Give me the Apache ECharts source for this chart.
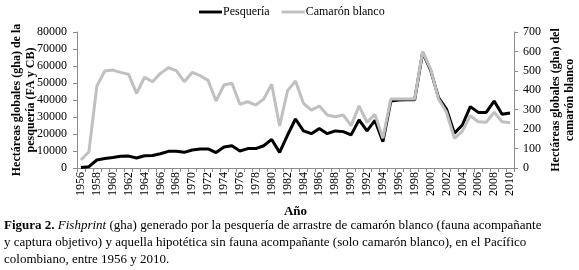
<!DOCTYPE html>
<html>
<head>
<meta charset="utf-8">
<script src="https://cdn.jsdelivr.net/npm/echarts@6/dist/echarts.min.js"></script>
<style>
  html, body { margin: 0; padding: 0; background: #fff; }
  #chart { width: 579px; height: 270px; }
</style>
</head>
<body>
<div id="chart"></div>
<script>
// Años 1956–2010, una categoría por año
const years = [];
for (let y = 1956; y <= 2010; y++) years.push(String(y));

// Pesquería (FA y CB), eje izquierdo, gha
const pesqueria = [
  300, 800, 4700, 5600, 6200, 6900, 7000, 5900, 7200, 7400,
  8400, 9800, 9800, 9200, 10600, 11200, 11200, 9100, 12300, 13100,
  10000, 11400, 11400, 13100, 16800, 9200, 19400, 28800, 21800, 20200,
  23300, 20200, 21800, 21400, 19500, 28300, 21800, 28000, 15500, 39400,
  40000, 40200, 40200, 68000, 57600, 41400, 34700, 20400, 25300, 36100,
  32700, 32700, 39400, 31600, 32300
];

// Camarón blanco, eje derecho, gha
const camaron = [
  41, 84, 422, 499, 504, 492, 482, 384, 467, 444,
  487, 516, 501, 444, 492, 475, 451, 345, 427, 436,
  328, 341, 324, 355, 431, 216, 398, 448, 333, 298,
  319, 273, 264, 273, 218, 320, 235, 276, 153, 355,
  355, 355, 355, 599, 510, 355, 287, 153, 190, 269,
  238, 235, 287, 238, 233
];

// Pie de figura, una entrada por renglón
const captionLines = [
  '{b|Figura 2.} {i|Fishprint} (gha) generado por la pesquería de arrastre de camarón blanco (fauna acompañante',
  'y captura objetivo) y aquella hipotética sin fauna acompañante (solo camarón blanco), en el Pacífico',
  'colombiano, entre 1956 y 2010.'
];

const serif = '"Liberation Serif", "DejaVu Serif", serif';
const axisGray = '#8c8c8c';
const lineIcon = 'path://M0,4 L24,4 L24,7 L0,7 Z';

const chart = echarts.init(document.getElementById('chart'), null, { renderer: 'canvas' });

chart.setOption({
  animation: false,
  textStyle: { fontFamily: serif, color: '#000' },
  legend: {
    top: 1,
    left: 194,
    itemWidth: 23,
    itemHeight: 10,
    itemGap: 12,
    textStyle: { fontFamily: serif, fontSize: 12, color: '#000', padding: [0, 0, 0, -4] },
    data: [
      { name: 'Pesquería', icon: lineIcon },
      { name: 'Camarón blanco', icon: lineIcon }
    ]
  },
  // posición fija del área de trazado, sin reajuste automático
  grid: { left: 77, right: 65, top: 32, bottom: 102, containLabel: false, outerBoundsMode: 'none' },
  xAxis: {
    type: 'category',
    data: years,
    boundaryGap: true,
    name: 'Año',
    nameLocation: 'middle',
    nameGap: 37,
    nameMoveOverlap: false,
    nameTextStyle: { fontFamily: serif, fontSize: 13, fontWeight: 'bold', color: '#000' },
    axisLine: { lineStyle: { color: axisGray, width: 1 } },
    axisTick: { show: true, length: 4, interval: 0, lineStyle: { color: axisGray } },
    axisLabel: {
      interval: 1,
      rotate: 90,
      margin: 4,
      fontFamily: serif,
      fontSize: 12,
      color: '#000'
    },
    splitLine: { show: false }
  },
  yAxis: [
    {
      type: 'value',
      min: 0,
      max: 80000,
      interval: 10000,
      position: 'left',
      name: 'Hectáreas globales (gha) de la\npesquería (FA y CB)',
      nameLocation: 'middle',
      nameRotate: 90,
      nameGap: 39,
      nameMoveOverlap: false,
      nameTextStyle: { fontFamily: serif, fontSize: 12, fontWeight: 'bold', color: '#000', lineHeight: 14 },
      axisLine: { show: true, lineStyle: { color: axisGray } },
      axisTick: { show: true, length: 4, lineStyle: { color: axisGray } },
      axisLabel: { fontFamily: serif, fontSize: 12, color: '#000', margin: 10, formatter: (v) => String(v) },
      splitLine: { show: false }
    },
    {
      type: 'value',
      min: 0,
      max: 700,
      interval: 100,
      position: 'right',
      name: 'Hectáreas globales (gha) del\ncamarón blanco',
      nameLocation: 'middle',
      nameRotate: 90,
      nameGap: 35,
      nameMoveOverlap: false,
      nameTextStyle: { fontFamily: serif, fontSize: 12, fontWeight: 'bold', color: '#000', lineHeight: 14 },
      axisLine: { show: true, lineStyle: { color: axisGray } },
      axisTick: { show: true, length: 4, lineStyle: { color: axisGray } },
      axisLabel: { fontFamily: serif, fontSize: 12, color: '#000', margin: 9 },
      splitLine: { show: false }
    }
  ],
  series: [
    {
      name: 'Pesquería',
      type: 'line',
      yAxisIndex: 0,
      data: pesqueria,
      symbol: 'none',
      itemStyle: { color: '#000' },
      lineStyle: { color: '#000', width: 3 },
      z: 2
    },
    {
      name: 'Camarón blanco',
      type: 'line',
      yAxisIndex: 1,
      data: camaron,
      symbol: 'none',
      itemStyle: { color: '#c0c0c0' },
      lineStyle: { color: '#c0c0c0', width: 3 },
      z: 3
    }
  ],
  graphic: captionLines.map((txt, i) => ({
    type: 'text',
    left: 4,
    top: 219 + i * 17,
    style: {
      text: txt,
      font: '13px ' + serif,
      fill: '#000',
      rich: {
        b: { fontFamily: serif, fontSize: 13, fontWeight: 'bold' },
        i: { fontFamily: serif, fontSize: 13, fontStyle: 'italic' }
      }
    }
  }))
});
</script>
</body>
</html>
